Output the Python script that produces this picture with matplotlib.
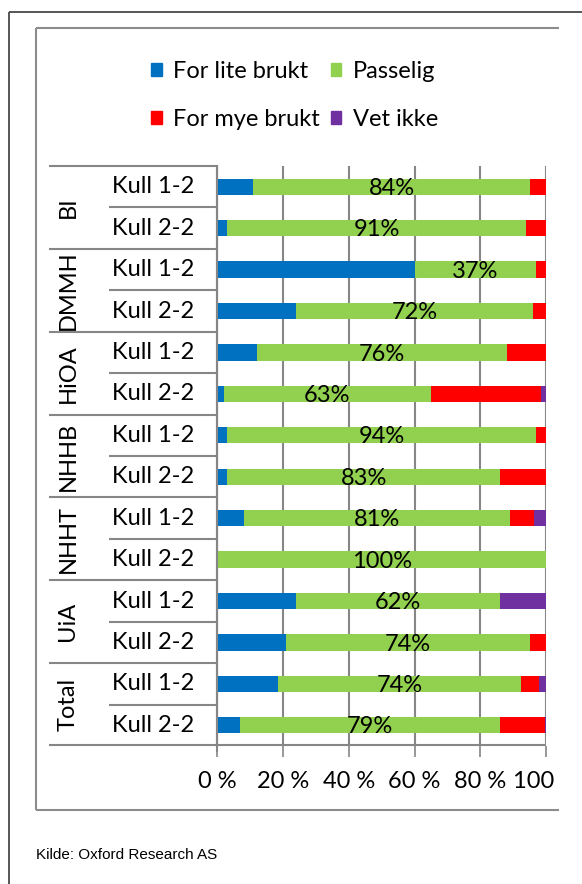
import matplotlib
matplotlib.use('Agg')
import matplotlib.pyplot as plt
from matplotlib.lines import Line2D
from matplotlib.patches import Rectangle, Patch
import numpy as np

# survey answers per institution and cohort (percent of respondents)
institutions = ["BI", "DMMH", "HiOA", "NHHB", "NHHT", "UiA", "Total"]
cohorts = ["Kull 1-2", "Kull 2-2"]
for_lite = [11, 3, 60, 24, 12, 2, 3, 3, 8, 0, 24, 21, 18.5, 7]
passelig = [84, 91, 37, 72, 76, 63, 94, 83, 81, 100, 62, 74, 74, 79]
for_mye = [5, 6, 3, 4, 12, 33.5, 3, 14, 7.5, 0, 0, 5, 5.5, 13.8]
vet_ikke = [0, 0, 0, 0, 0, 1.5, 0, 0, 3.5, 0, 14, 0, 2, 0.2]
series_names = ["For lite brukt", "Passelig", "For mye brukt", "Vet ikke"]
colors = ["#0070C0", "#92D050", "#FF0000", "#7030A0"]
xticks = [0, 20, 40, 60, 80, 100]
xticklabels = ["0 %", "20 %", "40 %", "60 %", "80 %", "100 %"]

W, H = 582, 884
FONT = "Lato"
FS = 17
GRID = "#868686"

fig = plt.figure(figsize=(W / 100, H / 100), dpi=100)


def fx(px):
    return px / W


def fy(py):
    return 1 - py / H


def fig_line(xs, ys, color, lw):
    fig.add_artist(Line2D([fx(x) for x in xs], [fy(y) for y in ys],
                          transform=fig.transFigure, color=color, lw=lw,
                          solid_capstyle='butt'))


# outer frame (left + top) and inner chart box
fig_line([9, 9], [12, H], "#3a3a3a", 1.2)
fig_line([9, W], [12, 12], "#3a3a3a", 1.2)
fig_line([36, 36], [28, 810], "#8c8c8c", 1.5)
fig_line([36, 559], [28, 28], "#8c8c8c", 1.5)
fig_line([36, 559], [810, 810], "#8c8c8c", 1.5)

ax_left, ax_right, ax_top, ax_bot = 217.3, 546.0, 166.0, 746.0
ax = fig.add_axes([fx(ax_left), fy(ax_bot), (ax_right - ax_left) / W,
                   (ax_bot - ax_top) / H])

n = len(passelig)
y = np.arange(n)
series = [for_lite, passelig, for_mye, vet_ikke]
left = np.zeros(n)
for vals, c, name in zip(series, colors, series_names):
    vals = np.array(vals, dtype=float)
    ax.barh(y, vals, left=left, height=0.39, color=c, label=name, zorder=3)
    left += vals

# percent labels centred on the green segment
for i in range(n):
    xc = for_lite[i] + passelig[i] / 2
    ax.text(xc, y[i] + 0.04, "{:d}%".format(int(round(passelig[i]))),
            ha='center', va='center', fontsize=FS, family=FONT,
            color='black', zorder=4)

ax.set_xlim(0, 100)
ax.set_ylim(n - 0.5, -0.5)
ax.set_yticks([])
ax.set_xticks(xticks)
ax.set_xticklabels(xticklabels, fontsize=FS, family=FONT)
ax.tick_params(axis='x', length=8, width=1.2, color=GRID, pad=10)
for s in ['top', 'right', 'bottom']:
    ax.spines[s].set_visible(False)
ax.spines['left'].set_color(GRID)
ax.spines['left'].set_linewidth(1.5)
for xv in xticks:
    ax.axvline(xv, color=GRID, lw=1.5, zorder=1)

# the last tick label runs past the chart box
clip = Rectangle((fx(36), 0), fx(556) - fx(36), 1, transform=fig.transFigure,
                 visible=False)
fig.add_artist(clip)
for lab in ax.get_xticklabels():
    lab.set_clip_path(clip)
    lab.set_clip_on(True)

# x axis line extends under the category table, y axis drops below
fig_line([49, ax_right], [745, 745], GRID, 1.5)
fig_line([ax_left, ax_left], [ax_top, 752], GRID, 1.5)

# two-level category table
row_h = (ax_bot - ax_top) / n
for k in range(n):
    yy = ax_top + k * row_h
    x0 = 49 if k % 2 == 0 else 109
    fig_line([x0, ax_left], [yy, yy], GRID, 1.5)
for i in range(n):
    yc = ax_top + (i + 0.5) * row_h
    fig.text(fx(112), fy(yc), cohorts[i % 2], ha='left', va='center',
             fontsize=FS, family=FONT)
for g, name in enumerate(institutions):
    yc = ax_top + (2 * g + 1) * row_h
    fig.text(fx(68), fy(yc), name, ha='center', va='center', rotation=90,
             fontsize=FS, family=FONT)

# legend, two rows of two
order = [0, 2, 1, 3]
handles = [Patch(color=colors[i]) for i in order]
labels = [series_names[i] for i in order]
fig.legend(handles, labels, ncol=2, loc='upper left',
           bbox_to_anchor=(fx(151), fy(61)), frameon=False,
           prop={'family': FONT, 'size': FS}, handlelength=0.45,
           handleheight=0.45, handletextpad=0.5, columnspacing=0.45,
           labelspacing=1.15, borderpad=0, borderaxespad=0)

fig.text(fx(36), fy(855), "Kilde: Oxford Research AS", ha='left',
         va='center', fontsize=11, family="Liberation Sans")

fig.savefig("out.png", dpi=100)
